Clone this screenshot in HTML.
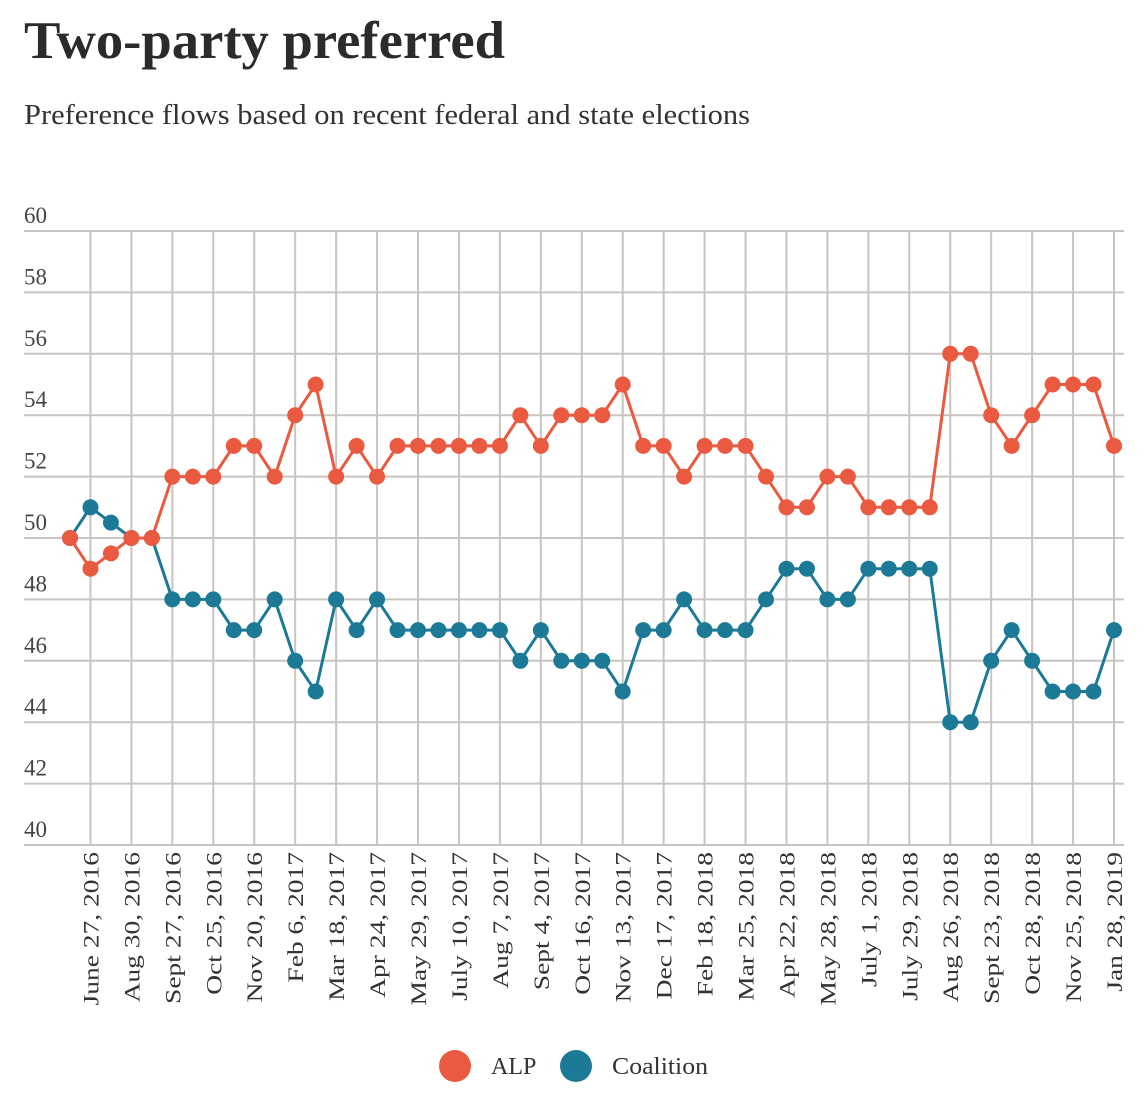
<!DOCTYPE html>
<html><head><meta charset="utf-8"><style>
body{margin:0;background:#fff;width:1147px;height:1101px;overflow:hidden;font-family:"Liberation Serif",serif;}
</style></head><body>
<svg width="1147" height="1101" style="position:absolute;left:0;top:0">
<text x="24" y="58" font-size="53" font-weight="bold" fill="#2b2b2b" textLength="481" lengthAdjust="spacingAndGlyphs" font-family="Liberation Serif, serif">Two-party preferred</text>
<text x="24" y="124" font-size="28" fill="#333" textLength="726" lengthAdjust="spacingAndGlyphs" font-family="Liberation Serif, serif">Preference flows based on recent federal and state elections</text>
<g id="grid"></g><g id="axes"></g><g id="series"></g>
<g>
<circle cx="455" cy="1066" r="16" fill="#ea5a40"/>
<text x="491" y="1074" font-size="24" fill="#333">ALP</text>
<circle cx="576" cy="1066" r="16" fill="#1d7a97"/>
<text x="612" y="1074" font-size="24" fill="#333" textLength="96" lengthAdjust="spacingAndGlyphs">Coalition</text>
</g>
</svg>
<script>
const dateLabels=["","June 27, 2016","","Aug 30, 2016","","Sept 27, 2016","","Oct 25, 2016","","Nov 20, 2016","","Feb 6, 2017","","Mar 18, 2017","","Apr 24, 2017","","May 29, 2017","","July 10, 2017","","Aug 7, 2017","","Sept 4, 2017","","Oct 16, 2017","","Nov 13, 2017","","Dec 17, 2017","","Feb 18, 2018","","Mar 25, 2018","","Apr 22, 2018","","May 28, 2018","","July 1, 2018","","July 29, 2018","","Aug 26, 2018","","Sept 23, 2018","","Oct 28, 2018","","Nov 25, 2018","","Jan 28, 2019"];
const alpValues=[50,49,49.5,50,50,52,52,52,53,53,52,54,55,52,53,52,53,53,53,53,53,53,54,53,54,54,54,55,53,53,52,53,53,53,52,51,51,52,52,51,51,51,51,56,56,54,53,54,55,55,55,53];
const coalitionValues=[50,51,50.5,50,50,48,48,48,47,47,48,46,45,48,47,48,47,47,47,47,47,47,46,47,46,46,46,45,47,47,48,47,47,47,48,49,49,48,48,49,49,49,49,44,44,46,47,46,45,45,45,47];
const yTicks=[40,42,44,46,48,50,52,54,56,58,60];
const NS="http://www.w3.org/2000/svg";
const x0=70,x1=1114,yMin=40,yMax=60,yTop=231,yBot=845;
const xs=i=>x0+(x1-x0)*i/(dateLabels.length-1);
const ys=v=>yBot-(v-yMin)/(yMax-yMin)*(yBot-yTop);
function mk(t,a,p){const e=document.createElementNS(NS,t);for(const k in a)e.setAttribute(k,a[k]);p.appendChild(e);return e;}
const grid=document.getElementById('grid'),axes=document.getElementById('axes'),ser=document.getElementById('series');
yTicks.forEach(v=>{
 const l=mk('line',{x1:24,x2:1124,y1:ys(v),y2:ys(v),stroke:'#c9c4c0','stroke-width':2},grid);
 
 
 const t=mk('text',{x:24,y:ys(v)-8,'font-size':23,fill:'#444'},axes);
 t.textContent=v;
 
 
});
dateLabels.forEach((d,i)=>{
 if(!d)return;
 const l=mk('line',{x1:xs(i),x2:xs(i),y1:yTop,y2:yBot,stroke:'#c9c4c0','stroke-width':2},grid);
 
 
 const x=xs(i)+8,y=yBot+7;
 const t=mk('text',{x:0,y:0,'font-size':22,fill:'#333','text-anchor':'end',transform:`translate(${x} ${y}) rotate(-90) scale(1.25 1)`},axes);
 t.textContent=d;
 
 
});
function drawSeries(vals,color,name){
 const g=mk('g',{},ser);
 
 
 const p=mk('polyline',{points:vals.map((v,i)=>xs(i)+','+ys(v)).join(' '),fill:'none',stroke:color,'stroke-width':3},g);
 
 
 vals.forEach((v,i)=>{
  const c=mk('circle',{cx:xs(i),cy:ys(v),r:8,fill:color},g);
  
  
 });
}
drawSeries(coalitionValues,'#1d7a97','coalition');
drawSeries(alpValues,'#ea5a40','alp');
</script>
</body></html>
